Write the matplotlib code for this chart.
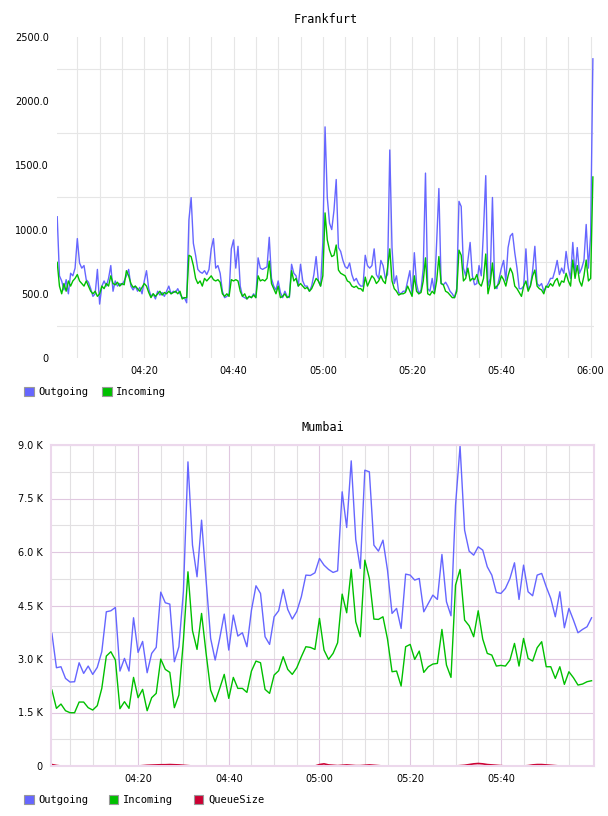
import datetime as dt
import matplotlib
matplotlib.use("Agg")
import matplotlib.pyplot as plt
import matplotlib.dates as mdates
from matplotlib.patches import Patch
from matplotlib.ticker import FixedLocator, FuncFormatter

# -----------------------------
# DATA
# -----------------------------
# Frankfurt: one sample every 30 s starting 04:00:30
fra_out = [
    1100, 640, 600, 530, 610, 500, 660, 640, 700, 930,
    740, 700, 720, 610, 590, 540, 480, 500, 690, 420,
    560, 600, 560, 620, 720, 520, 600, 560, 580, 570,
    600, 640, 690, 560, 530, 560, 520, 550, 500, 600,
    680, 540, 480, 500, 460, 520, 490, 510, 480, 520,
    560, 500, 520, 510, 540, 500, 470, 470, 430, 1075,
    1249, 893, 800, 690, 670, 660, 680, 650, 690, 850,
    930, 700, 720, 660, 520, 470, 480, 500, 850, 920,
    700, 870, 560, 480, 470, 460, 480, 470, 500, 470,
    780, 700, 690, 700, 710, 940, 620, 560, 530, 600,
    510, 470, 520, 480, 470, 730, 660, 640, 560, 730,
    600, 560, 560, 520, 560, 650, 790, 600, 560, 900,
    1800, 1250, 1050, 1000, 1150, 1390, 860, 830, 760, 711,
    698, 740, 650, 600, 620, 580, 560, 560, 800, 720,
    700, 720, 850, 650, 620, 760, 720, 620, 650, 1620,
    860, 580, 640, 510, 500, 520, 520, 600, 680, 490,
    820, 580, 500, 530, 700, 1440, 540, 520, 620, 510,
    900, 1320, 580, 570, 590, 560, 520, 500, 470, 540,
    1220, 1180, 700, 640, 760, 900, 640, 570, 580, 720,
    640, 1000, 1420, 560, 620, 1250, 560, 540, 620, 700,
    760, 600, 860, 950, 970, 820, 700, 540, 540, 560,
    850, 540, 560, 680, 870, 580, 560, 580, 520, 550,
    580, 620, 620, 680, 760, 650, 700, 660, 830, 700,
    620, 900, 650, 860, 660, 700, 760, 1040, 700, 960,
    2330,
]
fra_in = [
    745, 560, 500, 580, 520, 600, 560, 600, 620, 650,
    600, 580, 560, 600, 560, 520, 500, 520, 480, 500,
    560, 540, 580, 560, 640, 580, 570, 590, 560, 580,
    570, 680, 640, 580, 550, 560, 540, 520, 550, 580,
    560, 510, 470, 500, 480, 500, 520, 490, 510, 500,
    520, 500, 510, 520, 500, 520, 460, 470, 470, 800,
    790, 720, 620, 580, 600, 560, 620, 600, 620, 640,
    610, 600, 610, 590, 500, 480, 500, 480, 610, 600,
    610, 600, 520, 480, 500, 460, 480, 470, 490, 470,
    640, 600, 610, 600, 620, 755, 580, 540, 500, 560,
    470, 480, 500, 470, 480, 680, 600, 620, 560, 580,
    560, 540, 550, 520, 540, 580, 620, 600, 560, 640,
    1130, 920, 840, 790, 800, 880, 685, 660, 650, 640,
    600, 590, 560, 550, 560, 540, 540, 520, 630, 560,
    600, 640, 620, 580, 600, 640, 600, 580, 700, 850,
    600, 540, 520, 490, 500, 500, 510, 560, 520, 480,
    640, 520, 500, 510, 600, 780, 500, 490, 520, 500,
    600, 790, 580, 570, 520, 510, 490, 470, 470, 520,
    840, 800, 600, 620, 700, 600, 620, 610, 650, 580,
    560, 620, 810, 500, 580, 740, 540, 560, 580, 640,
    610, 560, 640, 700, 660, 560, 540, 510, 480, 560,
    600, 520, 560, 640, 685, 560, 540, 530, 500, 560,
    550, 580, 560, 600, 620, 560, 600, 590, 660, 600,
    560, 763, 620, 720, 600, 560, 640, 763, 600, 620,
    1410,
]

# Mumbai: one sample per minute starting 04:01
mum_out = [
    3717, 2755, 2783, 2456, 2354, 2363, 2895, 2596, 2802, 2568,
    2765, 3204, 4324, 4352, 4446, 2662, 3017, 2662, 4156, 3185,
    3493, 2615, 3157, 3325, 4875, 4577, 4539, 2923, 3344, 4900,
    8527, 6192, 5305, 6893, 5212, 3577, 2970, 3577, 4259, 3250,
    4231, 3643, 3736, 3344, 4371, 5053, 4838, 3624, 3409, 4184,
    4352, 4950, 4390, 4119, 4334, 4745, 5352, 5342, 5417, 5819,
    5632, 5511, 5427, 5473, 7687, 6687, 8555, 6351, 5539, 8294,
    8247, 6192, 6024, 6332, 5492, 4278, 4418, 3857, 5380, 5352,
    5212, 5258, 4324, 4558, 4791, 4670, 5931, 4605, 4212, 7313,
    8966, 6613, 6024, 5912, 6146, 6052, 5585, 5352, 4866, 4838,
    4978, 5258, 5697, 4670, 5632, 4885, 4773, 5352, 5399, 5025,
    4698, 4184, 4885, 3876, 4418, 4091, 3736, 3829, 3904, 4156,
]
mum_in = [
    2130, 1616, 1737, 1550, 1494, 1494, 1793, 1793, 1635, 1569,
    1691, 2176, 3082, 3204, 2970, 1606, 1803, 1616, 2484, 1915,
    2148, 1550, 1915, 2036, 2998, 2709, 2625, 1635, 1989, 3530,
    5445, 3792, 3269, 4278, 3157, 2130, 1803, 2176, 2569, 1896,
    2484, 2176, 2176, 2064, 2662, 2942, 2895, 2148, 2036, 2550,
    2671, 3064, 2709, 2569, 2755, 3064, 3344, 3325, 3269, 4138,
    3250, 2989, 3157, 3456, 4819, 4296, 5511, 4044, 3624, 5772,
    5258, 4119, 4110, 4184, 3559, 2643, 2662, 2242, 3344, 3409,
    2989, 3222, 2625, 2783, 2858, 2877, 3829, 2830, 2484, 5072,
    5511, 4091, 3932, 3624, 4352, 3559, 3157, 3110, 2802, 2821,
    2802, 2970, 3437, 2802, 3577, 3017, 2942, 3316, 3484, 2783,
    2783, 2456, 2783, 2288, 2643, 2475, 2270, 2298, 2363, 2391,
]
mum_queue = [
    40, 15, 0, 0, 0, 0, 0, 0, 0, 0,
    0, 0, 0, 0, 0, 0, 0, 0, 0, 0,
    10, 20, 25, 30, 35, 35, 40, 35, 30, 20,
    10, 0, 0, 0, 0, 0, 0, 0, 0, 0,
    0, 0, 0, 0, 0, 0, 0, 0, 0, 0,
    0, 0, 0, 0, 0, 0, 0, 0, 0, 40,
    60, 30, 20, 10, 20, 30, 20, 10, 10, 20,
    30, 20, 10, 0, 0, 0, 0, 0, 0, 0,
    0, 0, 0, 0, 0, 0, 0, 0, 0, 0,
    10, 20, 40, 60, 70, 60, 40, 30, 20, 10,
    0, 0, 0, 0, 0, 10, 30, 40, 40, 30,
    20, 10, 0, 0, 0, 0, 0, 0, 0, 0,
]

fra_yticks = [0, 500, 1000, 1500, 2000, 2500]
fra_ytick_labels = ["0", "500.0", "1000.0", "1500.0", "2000.0", "2500.0"]
mum_yticks = [0, 1500, 3000, 4500, 6000, 7500, 9000]
mum_ytick_labels = ["0", "1.5 K", "3.0 K", "4.5 K", "6.0 K", "7.5 K", "9.0 K"]

C_OUT = "#6666ff"
C_IN = "#00c000"
C_Q = "#cc0033"

day = dt.datetime(2000, 1, 1)
fra_t = [day + dt.timedelta(hours=4, seconds=30 * (i + 1)) for i in range(len(fra_out))]
mum_t = [day + dt.timedelta(hours=4, minutes=1 + i) for i in range(len(mum_out))]

W, H = 608, 816
fig = plt.figure(figsize=(W / 100, H / 100), dpi=100)

MONO = "DejaVu Sans Mono"
TICK_FS = 7


def box(l, t, r, b):
    return [l / W, 1 - b / H, (r - l) / W, (b - t) / H]


def hm(h, m, s=0):
    return day + dt.timedelta(hours=h, minutes=m, seconds=s)


def time_axis(ax, t0, t1, majors, minor_col, major_col):
    ax.set_xlim(t0, t1)
    ax.xaxis.set_major_locator(FixedLocator(mdates.date2num(majors)))
    ax.xaxis.set_minor_locator(mdates.MinuteLocator(byminute=range(5, 60, 5)))
    ax.xaxis.set_major_formatter(mdates.DateFormatter("%H:%M"))
    ax.tick_params(axis="both", which="both", length=0, labelsize=TICK_FS, pad=6)
    ax.grid(True, axis="x", which="major", color=major_col, lw=0.8)
    ax.grid(True, axis="x", which="minor", color=minor_col, lw=0.8)


def legend(ax, y, names, colors, spacing):
    handles = [Patch(facecolor=c, edgecolor="#999999", lw=0.8) for c in colors]
    ax.legend(handles, names, loc="center left", bbox_to_anchor=(20 / W, 1 - y / H),
              bbox_transform=fig.transFigure, ncol=len(names), frameon=False,
              handlelength=0.9, handleheight=0.9, handletextpad=0.45,
              columnspacing=spacing, borderaxespad=0, prop={"family": MONO, "size": 7.5})


# -----------------------------
# FRANKFURT
# -----------------------------
ax1 = fig.add_axes(box(57, 37, 594, 358))
ax1.plot(fra_t, fra_out, color=C_OUT, lw=1.0)
ax1.plot(fra_t, fra_in, color=C_IN, lw=1.0)
ax1.set_ylim(0, 2500)
ax1.yaxis.set_major_locator(FixedLocator(fra_yticks))
ax1.yaxis.set_major_formatter(FuncFormatter(lambda v, p: fra_ytick_labels[fra_yticks.index(int(round(v)))]))
ax1.yaxis.set_minor_locator(FixedLocator([250, 750, 1250, 1750, 2250]))
time_axis(ax1, hm(4, 0, 27), hm(6, 0, 45),
          [hm(4, 20), hm(4, 40), hm(5, 0), hm(5, 20), hm(5, 40), hm(6, 0)],
          "#e6e6e6", "#e6e6e6")
ax1.grid(True, axis="y", which="minor", color="#e6e6e6", lw=0.8)
for s in ax1.spines.values():
    s.set_visible(False)
ax1.set_title("Frankfurt", family=MONO, fontsize=8.5, pad=10)
legend(ax1, 392, ["Outgoing", "Incoming"], [C_OUT, C_IN], 1.35)

# -----------------------------
# MUMBAI
# -----------------------------
ax2 = fig.add_axes(box(51, 445, 594, 766))
ax2.plot(mum_t, mum_out, color=C_OUT, lw=1.0)
ax2.plot(mum_t, mum_in, color=C_IN, lw=1.0)
ax2.plot(mum_t, mum_queue, color=C_Q, lw=1.2)
ax2.set_ylim(0, 9000)
ax2.yaxis.set_major_locator(FixedLocator(mum_yticks))
ax2.yaxis.set_major_formatter(FuncFormatter(lambda v, p: mum_ytick_labels[mum_yticks.index(int(round(v)))]))
ax2.yaxis.set_minor_locator(FixedLocator([750, 2250, 3750, 5250, 6750, 8250]))
time_axis(ax2, hm(4, 0, 48), hm(6, 0, 32),
          [hm(4, 20), hm(4, 40), hm(5, 0), hm(5, 20), hm(5, 40)],
          "#e2e0e2", "#e0c8e0")
ax2.grid(True, axis="y", which="major", color="#e0c8e0", lw=0.8)
ax2.grid(True, axis="y", which="minor", color="#e2e0e2", lw=0.8)
for s in ax2.spines.values():
    s.set_color("#ecd8ec")
    s.set_linewidth(1.5)
ax2.set_title("Mumbai", family=MONO, fontsize=8.5, pad=10)
legend(ax2, 800, ["Outgoing", "Incoming", "QueueSize"], [C_OUT, C_IN, C_Q], 2.0)

for ax in (ax1, ax2):
    ax.set_axisbelow(True)

fig.savefig("out.png", dpi=100)
